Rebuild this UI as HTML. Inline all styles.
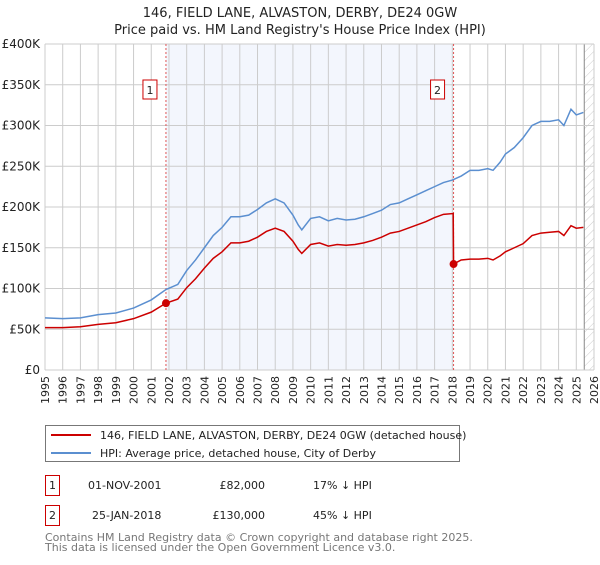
<!DOCTYPE html>
<html><head><meta charset="utf-8"><style>
body{margin:0;background:#fff;font-family:"Liberation Sans","DejaVu Sans",sans-serif;}
svg text{font-family:"DejaVu Sans","Liberation Sans",sans-serif;}
</style></head><body>
<svg id="c" width="600" height="560" xmlns="http://www.w3.org/2000/svg">
<defs><pattern id="hatch" width="6" height="6" patternUnits="userSpaceOnUse" patternTransform="rotate(45)"><line x1="0" y1="0" x2="0" y2="6" stroke="#ccc" stroke-width="1"/></pattern></defs>
<text x="300" y="17" text-anchor="middle" font-size="13" fill="#222">146, FIELD LANE, ALVASTON, DERBY, DE24 0GW</text>
<text x="300" y="34" text-anchor="middle" font-size="13" fill="#222">Price paid vs. HM Land Registry's House Price Index (HPI)</text>
<g id="plot"></g>
<g>
<rect x="45.5" y="425.5" width="414" height="36" fill="#fff" stroke="#777"/>
<line x1="51" y1="435" x2="91" y2="435" stroke="#cc0000" stroke-width="2"/>
<text x="100" y="439" font-size="11" fill="#222">146, FIELD LANE, ALVASTON, DERBY, DE24 0GW (detached house)</text>
<line x1="51" y1="453" x2="91" y2="453" stroke="#5b8fd0" stroke-width="2"/>
<text x="100" y="457" font-size="11" fill="#222">HPI: Average price, detached house, City of Derby</text>
</g>
<g font-size="11" fill="#222">
<rect x="45.5" y="475.5" width="14" height="20" fill="#fff" stroke="#cc0000"/>
<text x="52.5" y="489" text-anchor="middle">1</text>
<text x="88" y="489">01-NOV-2001</text><text x="265" y="489" text-anchor="end">£82,000</text><text x="313" y="489">17% ↓ HPI</text>
<rect x="45.5" y="505.5" width="14" height="20" fill="#fff" stroke="#cc0000"/>
<text x="52.5" y="519" text-anchor="middle">2</text>
<text x="92" y="519">25-JAN-2018</text><text x="265" y="519" text-anchor="end">£130,000</text><text x="313" y="519">45% ↓ HPI</text>
</g>
<text x="45" y="541" font-size="11" fill="#777">Contains HM Land Registry data © Crown copyright and database right 2025.</text>
<text x="45" y="551" font-size="11" fill="#777">This data is licensed under the Open Government Licence v3.0.</text>
</svg>
<script>
const years=[1995,1996,1997,1998,1999,2000,2001,2002,2003,2004,2005,2006,2007,2008,2009,2010,2011,2012,2013,2014,2015,2016,2017,2018,2019,2020,2021,2022,2023,2024,2025,2026];
const yTicks=[0,50000,100000,150000,200000,250000,300000,350000,400000];
const yTickLabels=["£0","£50K","£100K","£150K","£200K","£250K","£300K","£350K","£400K"];
const hpiDates=[1995,1996,1997,1998,1999,2000,2001,2001.83,2002.5,2003,2003.5,2004,2004.5,2005,2005.5,2006,2006.5,2007,2007.5,2008,2008.5,2009,2009.3,2009.5,2010,2010.5,2011,2011.5,2012,2012.5,2013,2013.5,2014,2014.5,2015,2015.5,2016,2016.5,2017,2017.5,2018,2018.5,2019,2019.5,2020,2020.3,2020.7,2021,2021.5,2022,2022.5,2023,2023.5,2024,2024.3,2024.7,2025,2025.4];
const hpiValues=[64,63,64,68,70,76,86,98.7,105,122,135,150,165,175,188,188,190,197,205,210,205,190,178,172,186,188,183,186,184,185,188,192,196,203,205,210,215,220,225,230,233,238,245,245,247,245,255,265,273,285,300,305,305,307,300,320,313,316];
const redDates=[1995,1996,1997,1998,1999,2000,2001,2001.83,2002.5,2003,2003.5,2004,2004.5,2005,2005.5,2006,2006.5,2007,2007.5,2008,2008.5,2009,2009.3,2009.5,2010,2010.5,2011,2011.5,2012,2012.5,2013,2013.5,2014,2014.5,2015,2015.5,2016,2016.5,2017,2017.5,2018.05,2018.07,2018.5,2019,2019.5,2020,2020.3,2020.7,2021,2021.5,2022,2022.5,2023,2023.5,2024,2024.3,2024.7,2025,2025.4];
const redValues=[52,52,53,56,58,63,71,82,87,101,112,125,137,145,156,156,158,163,170,174,170,158,148,143,154,156,152,154,153,154,156,159,163,168,170,174,178,182,187,191,192,130,135,136,136,137,135,140,145,150,155,165,168,169,170,165,177,174,175];
const saleDates=[2001.83,2018.07];
const salePrices=[82,130];
const saleLabels=["1","2"];
const forecastStart=2025.45;

const L=45,R=594,T=44,B=370;
const xs=d=>L+(d-1995)/(2026-1995)*(R-L);
const ys=v=>B-v/400000*(B-T);
const NS="http://www.w3.org/2000/svg";
const g=document.getElementById('plot');
function mk(t,a,p){const e=document.createElementNS(NS,t);for(const k in a)e.setAttribute(k,a[k]);(p||g).appendChild(e);return e;}
let sh=mk('rect',{x:xs(saleDates[0]),y:T,width:xs(saleDates[1])-xs(saleDates[0]),height:B-T,fill:'#f3f6fd'});


let ht=mk('rect',{x:xs(forecastStart),y:T,width:R-xs(forecastStart),height:B-T,fill:'url(#hatch)'});


mk('line',{x1:xs(forecastStart),y1:T,x2:xs(forecastStart),y2:B,stroke:'#888','stroke-width':1});
years.forEach(y=>{
 const x=xs(y);
 mk('line',{x1:x,y1:T,x2:x,y2:B,stroke:'#ccc','stroke-width':1});
 const t=mk('text',{transform:`translate(${x+4},${B+6}) rotate(-90)`,'text-anchor':'end','font-size':11,fill:'#222'});
 t.textContent=y;
 
 
});
yTicks.forEach((v,i)=>{
 const y=ys(v);
 mk('line',{x1:L,y1:y,x2:R,y2:y,stroke:'#ccc','stroke-width':1});
 const t=mk('text',{x:40,y:y+4,'text-anchor':'end','font-size':12,fill:'#222'});
 t.textContent=yTickLabels[i];
 
 
});
saleDates.forEach((d,i)=>{
 mk('line',{x1:xs(d),y1:T,x2:xs(d),y2:B,stroke:'#e05555','stroke-width':1,'stroke-dasharray':'2,2'});
});
let hp=mk('polyline',{points:hpiDates.map((d,i)=>xs(d)+','+ys(hpiValues[i]*1000)).join(' '),fill:'none',stroke:'#5b8fd0','stroke-width':1.5});


let rl=mk('polyline',{points:redDates.map((d,i)=>xs(d)+','+ys(redValues[i]*1000)).join(' '),fill:'none',stroke:'#cc0000','stroke-width':1.5});


saleDates.forEach((d,i)=>{
 const c=mk('circle',{cx:xs(d),cy:ys(salePrices[i]*1000),r:4,fill:'#cc0000'});
 
 
 const bx=xs(d)-16;
 const r=mk('rect',{x:bx-7,y:80,width:14,height:19,fill:'#fff',stroke:'#cc0000'});
 
 
 const t=mk('text',{x:bx,y:94,'text-anchor':'middle','font-size':11,fill:'#222'});
 t.textContent=saleLabels[i];
});
</script>
</body></html>
